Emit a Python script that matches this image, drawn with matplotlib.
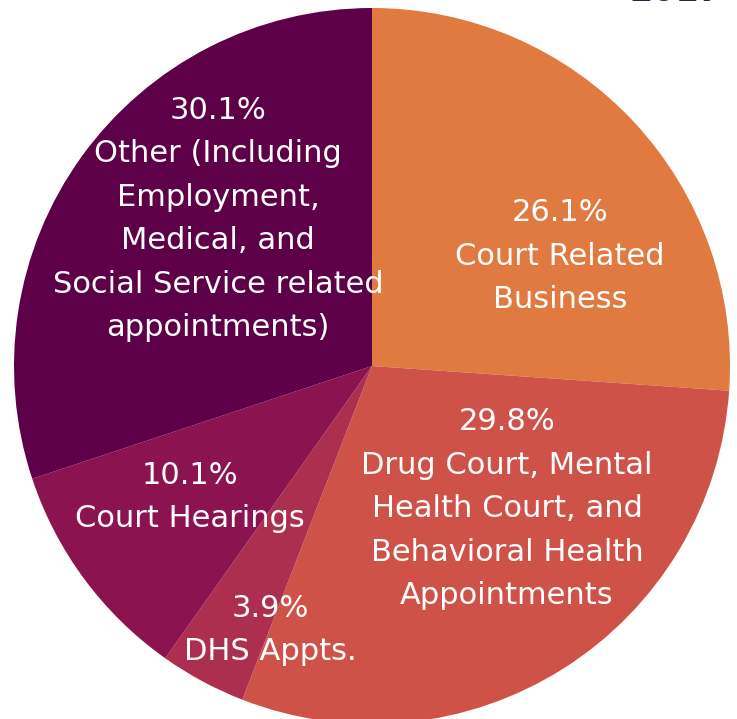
import matplotlib
matplotlib.use("Agg")
import matplotlib.pyplot as plt

# Reasons for trips, share of total
categories = ["Court Related\nBusiness",
              "Drug Court, Mental\nHealth Court, and\nBehavioral Health\nAppointments",
              "DHS Appts.",
              "Court Hearings",
              "Other (Including\nEmployment,\nMedical, and\nSocial Service related\nappointments)"]
shares = [26.1, 29.8, 3.9, 10.1, 30.1]
colors = ["#E07A40", "#CF5249", "#AD2F4F", "#8A1350", "#5D0047"]
# label centres (data units, pie radius = 1)
label_pos = [(0.525, 0.307), (0.377, -0.399), (-0.285, -0.737),
             (-0.508, -0.366), (-0.430, 0.411)]
year_label = "2017"

plt.rcParams['font.family'] = ['DejaVu Sans']

fig = plt.figure(figsize=(7.37, 7.19), dpi=100)
ax = fig.add_axes([0, 0, 1, 1])
ax.pie(shares, colors=colors, startangle=90, counterclock=False,
       radius=1, wedgeprops=dict(linewidth=0))

for cat, val, (x, y) in zip(categories, shares, label_pos):
    ax.text(x, y, f"{val:.1f}%\n{cat}", ha='center', va='center',
            color='white', fontsize=22, linespacing=1.63)

ax.set_xlim(-372 / 358, (737 - 372) / 358)
ax.set_ylim(-(719 - 366) / 358, 366 / 358)
ax.set_aspect('auto')
ax.axis('off')

# year heading sits mostly above the top edge, as in the source crop
fig.text(0.917, 1 - 1 / 719, year_label, ha='center', va='baseline',
         color='#1F2A48', fontsize=24, fontweight='semibold')

fig.savefig("out.png", dpi=100)
